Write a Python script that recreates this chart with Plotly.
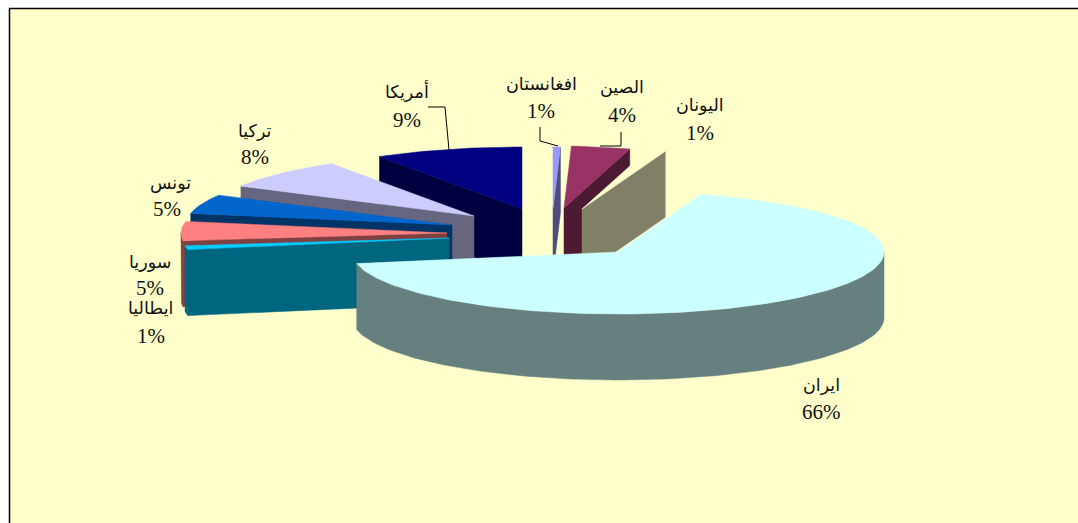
import math
import plotly.graph_objects as go

# Data: clockwise from 12 o'clock
categories = ["افغانستان", "الصين", "اليونان", "ايران", "ايطاليا", "سوريا", "تونس", "تركيا", "أمريكا"]
values = [1, 4, 1, 66, 1, 5, 5, 8, 9]

# Styles
top_colors = ["#9999FF", "#993366", "#FFFFCC", "#CCFFFF", "#00CCFF", "#FF8080", "#0066CC", "#CCCCFF", "#000080"]
side_colors = ["#4D4D80", "#4D1A33", "#808066", "#668080", "#006680", "#804040", "#003366", "#666680", "#000040"]
explode_x = [12, 23, 41, 77, -92, -94, -89, -67, -19]
explode_y = [-24, -25, -24, 19, 5, 0, -8, -17, -24]
draw_order = [0, 1, 2, 8, 7, 6, 5, 4, 3]
name_xy = [(541, 84), (622, 87), (700, 105), (821, 385), (150, 308), (150, 262), (170, 183), (255, 131), (407, 91)]
pct_xy = [(541, 111), (622, 115), (700, 133), (821, 412), (151, 336), (150, 288), (167, 209), (255, 157), (407, 120)]
leaders = [[(540, 127), (540, 141), (558, 146)], [(621, 132), (621, 146), (600, 146)], [(428, 107), (445, 107), (449, 150)]]

CX, CY, RX, RY, DEPTH = 541, 233, 266, 62, 66
NAME_FONT = "Times New Roman, Liberation Serif, DejaVu Serif, DejaVu Sans, serif"
PCT_FONT = "Liberation Serif, Times New Roman, serif"
BG = "#FFFFCC"


def rim(t, ax, ay):
    n = t % 360
    warp = 0
    if 0 < n <= 80:
        warp = 4.5 * math.sin(math.radians(n)) ** 4
    elif 80 < n < 90:
        warp = 2.0
    return ax + RX * math.cos(math.radians(t + warp)), ay - RY * math.sin(math.radians(t))


def arc(a, b, ax, ay):
    steps = max(2, int(abs(a - b) / 1.5))
    return [rim(a + (b - a) * i / steps, ax, ay) for i in range(steps + 1)]


def poly(points, color):
    xs = [p[0] for p in points] + [points[0][0]]
    ys = [p[1] for p in points] + [points[0][1]]
    return go.Scatter(x=xs, y=ys, mode="lines", fill="toself", fillcolor=color,
                      line=dict(width=0.5, color=color), hoverinfo="skip", showlegend=False)


total = sum(values)
starts = []
angle = 90.0
for v in values:
    starts.append(angle)
    angle -= 360.0 * v / total

fig = go.Figure()
for i in draw_order:
    a0, a1 = starts[i], starts[i] - 360.0 * values[i] / total
    ax, ay = CX + explode_x[i], CY + explode_y[i]
    mid = (a0 + a1) / 2 % 360
    # radial wall facing the viewer (not for the reflex slice)
    if values[i] < 50:
        e = a0 if 90 < mid < 270 else a1
        p = rim(e, ax, ay)
        fig.add_trace(poly([(ax, ay), p, (p[0], p[1] + DEPTH), (ax, ay + DEPTH)], side_colors[i]))
    # outer wall on the near half (angles -180..0)
    s, e = min(a0, 0), max(a1, -180)
    if s > e:
        top = arc(s, e, ax, ay)
        fig.add_trace(poly(top + [(x, y + DEPTH) for x, y in reversed(top)], side_colors[i]))
    # top face
    fig.add_trace(poly([(ax, ay)] + arc(a0, a1, ax, ay), top_colors[i]))

for path in leaders:
    fig.add_trace(go.Scatter(x=[p[0] for p in path], y=[p[1] for p in path], mode="lines",
                             line=dict(color="black", width=1), hoverinfo="skip", showlegend=False))

ann = []
for name, v, nxy, pxy in zip(categories, values, name_xy, pct_xy):
    ann.append(dict(x=nxy[0], y=nxy[1], text=name, showarrow=False, xanchor="center", yanchor="middle",
                    font=dict(family=NAME_FONT, size=17.5, color="#111111")))
    ann.append(dict(x=pxy[0], y=pxy[1], text=f"{v}%", showarrow=False, xanchor="center", yanchor="middle",
                    font=dict(family=PCT_FONT, size=21, color="#111111")))

fig.update_layout(
    width=1078, height=523, autosize=False, margin=dict(l=0, r=0, t=0, b=0),
    paper_bgcolor="white", plot_bgcolor="white",
    xaxis=dict(range=[0, 1078], visible=False, fixedrange=True),
    yaxis=dict(range=[523, 0], visible=False, fixedrange=True),
    annotations=ann,
    shapes=[dict(type="rect", xref="x", yref="y", x0=9.5, y0=8.5, x1=1090, y1=540,
                 fillcolor=BG, line=dict(color="black", width=1.5), layer="below")],
)
fig.write_html("out.html", config={"displayModeBar": False},
               post_script="document.body.style.margin='0';document.body.style.overflow='hidden';")
